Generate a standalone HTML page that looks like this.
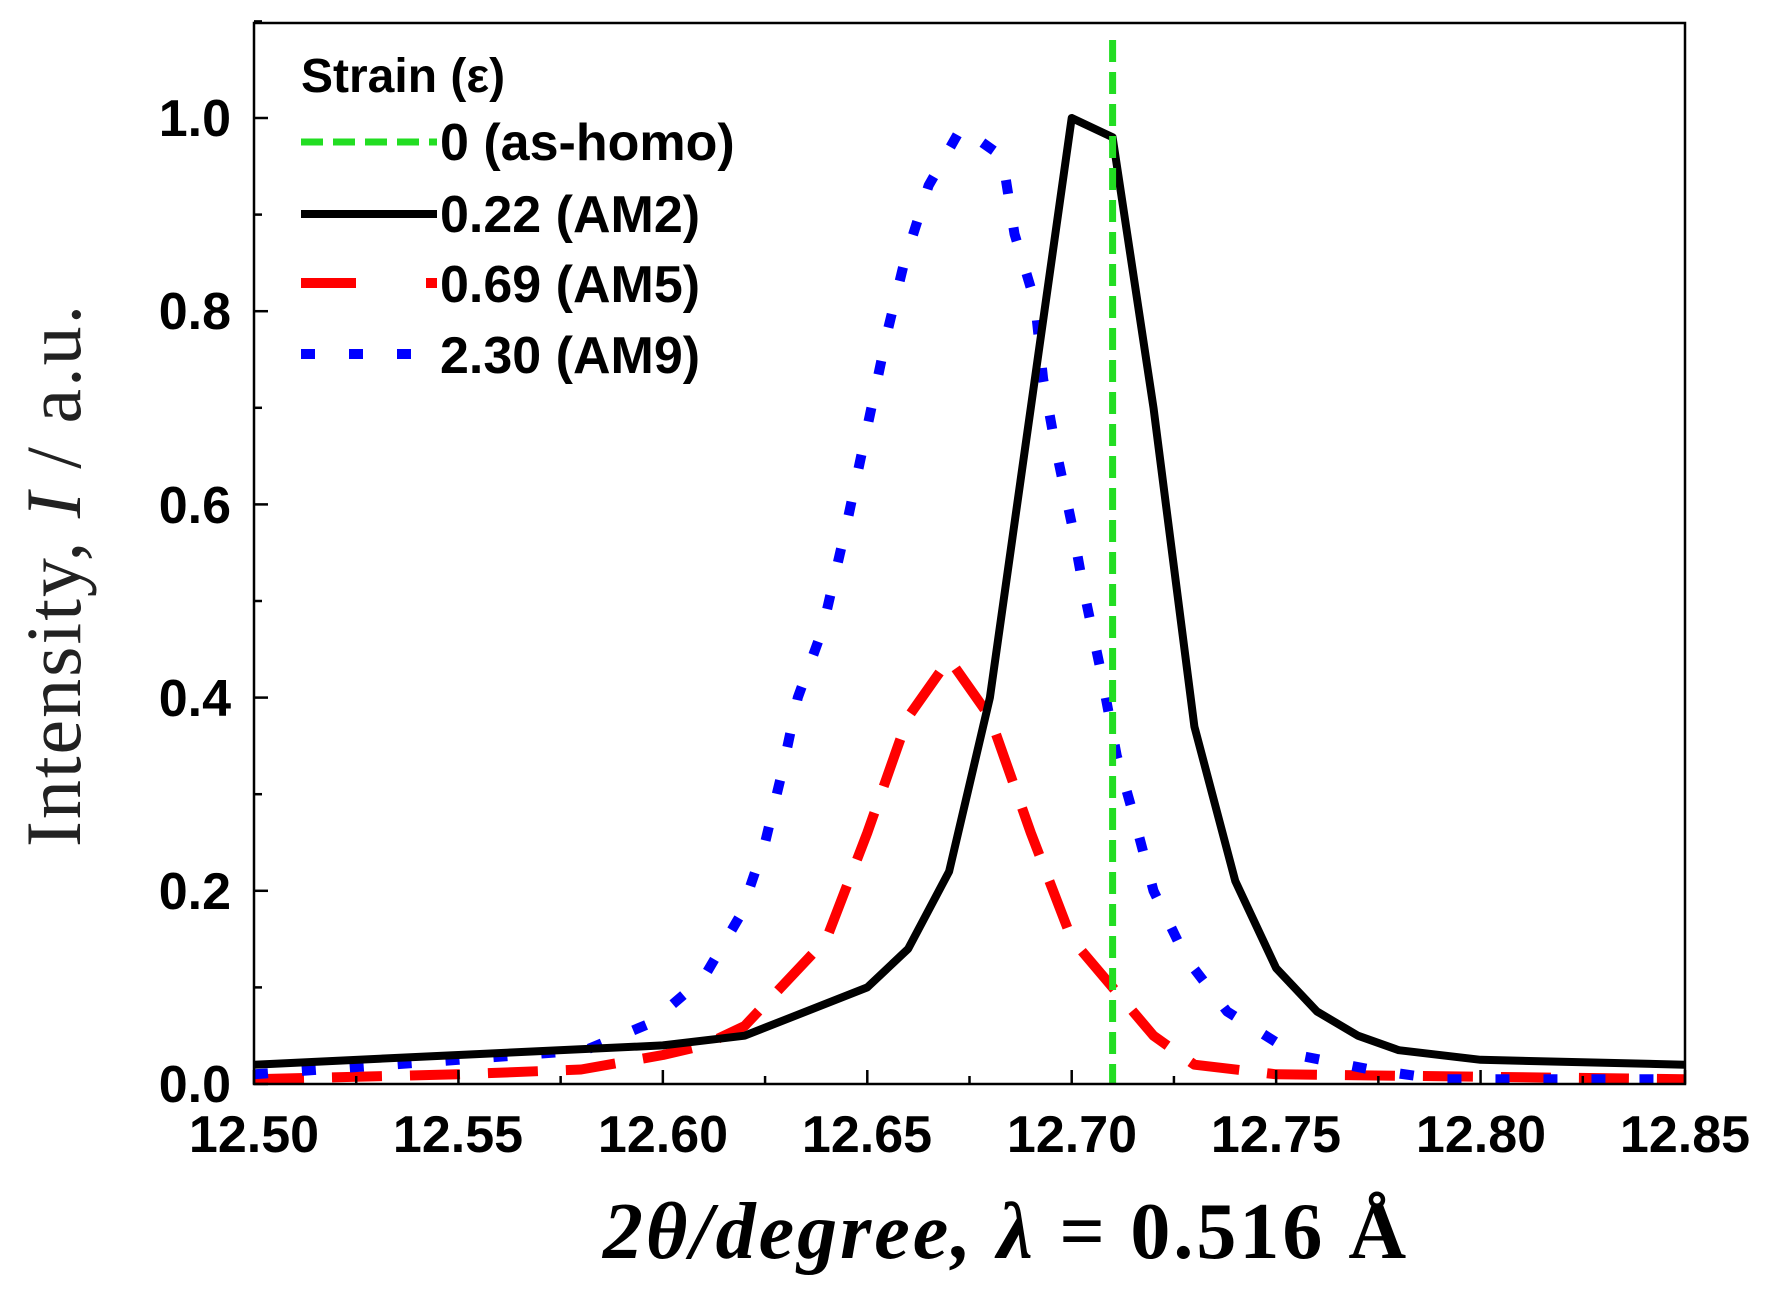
<!DOCTYPE html>
<html><head><meta charset="utf-8"><style>
html,body{margin:0;padding:0;background:#fff;width:1792px;height:1292px;overflow:hidden}
svg{display:block}
.tk{font-family:"Liberation Sans",sans-serif;font-weight:bold;font-size:52px;fill:#000}
</style></head><body>
<svg id="s" width="1792" height="1292" viewBox="0 0 1792 1292" xmlns="http://www.w3.org/2000/svg">
<rect x="0" y="0" width="1792" height="1292" fill="#fff"/>
<g id="data"></g>
<rect x="254" y="23" width="1431" height="1061" fill="none" stroke="#000" stroke-width="2.5"/>
<g id="ticks" stroke="#000" stroke-width="2.5"></g>
<g class="tk" text-anchor="end">
<text x="231" y="1102">0.0</text>
<text x="231" y="909">0.2</text>
<text x="231" y="716">0.4</text>
<text x="231" y="523">0.6</text>
<text x="231" y="329">0.8</text>
<text x="231" y="136">1.0</text>
</g>
<g class="tk" text-anchor="middle" id="xl">
<text x="254" y="1152">12.50</text>
<text x="458" y="1152">12.55</text>
<text x="663" y="1152">12.60</text>
<text x="867" y="1152">12.65</text>
<text x="1072" y="1152">12.70</text>
<text x="1276" y="1152">12.75</text>
<text x="1481" y="1152">12.80</text>
<text x="1685" y="1152">12.85</text>
</g>
<text x="1006" y="1258" text-anchor="middle" font-family="'Liberation Serif',serif" font-weight="bold" font-style="italic" font-size="80" letter-spacing="3">2θ/degree, λ = <tspan font-style="normal">0.516 Å</tspan></text>
<text transform="translate(80,575) rotate(-90)" text-anchor="middle" font-family="'Liberation Serif',serif" font-size="78" letter-spacing="2" fill="#222">Intensity, <tspan font-style="italic">I</tspan> / a.u.</text>
<g font-family="'Liberation Sans',sans-serif" font-weight="bold" font-size="52">
<text x="301" y="92" font-size="48">Strain (ε)</text>
<text x="440" y="160">0 (as-homo)</text>
<text x="440" y="232">0.22 (AM2)</text>
<text x="440" y="302">0.69 (AM5)</text>
<text x="440" y="373">2.30 (AM9)</text>
</g>
<line x1="301" y1="142" x2="437" y2="142" stroke="#22dd22" stroke-width="7" stroke-dasharray="22,10"/>
<line x1="301" y1="214" x2="437" y2="214" stroke="#000" stroke-width="8"/>
<line x1="301" y1="283" x2="437" y2="283" stroke="#f00" stroke-width="10" stroke-dasharray="55,70"/>
<line x1="301" y1="354" x2="437" y2="354" stroke="#00f" stroke-width="10" stroke-dasharray="14,34"/>
</svg>
<script>
var X=function(v){return 254+(v-12.5)/0.35*1431},Y=function(v){return 1084-v*966};
function path(pts){return pts.map(function(p,i){return (i?'L':'M')+X(p[0]).toFixed(1)+' '+Y(p[1]).toFixed(1)}).join(' ')}
var g=document.getElementById('data'),ns='http://www.w3.org/2000/svg';
function add(pts,col,w,dash){var p=document.createElementNS(ns,'path');p.setAttribute('d',path(pts));p.setAttribute('fill','none');p.setAttribute('stroke',col);p.setAttribute('stroke-width',w);p.setAttribute('stroke-linejoin','round');if(dash)p.setAttribute('stroke-dasharray',dash);g.appendChild(p);}
add([[12.5,0.005],[12.55,0.01],[12.58,0.015],[12.6,0.03],[12.61,0.04],[12.62,0.06],[12.64,0.15],[12.65,0.26],[12.66,0.38],[12.67,0.44],[12.68,0.38],[12.69,0.26],[12.7,0.15],[12.71,0.1],[12.72,0.05],[12.73,0.02],[12.75,0.01],[12.85,0.005]],'#f00',10,'50,28');
add([[12.5,0.01],[12.55,0.025],[12.581,0.035],[12.597,0.063],[12.61,0.11],[12.619,0.175],[12.625,0.25],[12.629,0.32],[12.633,0.4],[12.639,0.47],[12.645,0.58],[12.651,0.7],[12.655,0.78],[12.659,0.85],[12.665,0.93],[12.673,0.99],[12.683,0.96],[12.686,0.88],[12.691,0.81],[12.693,0.73],[12.696,0.66],[12.7,0.58],[12.703,0.51],[12.707,0.43],[12.711,0.34],[12.715,0.28],[12.72,0.2],[12.728,0.13],[12.738,0.075],[12.755,0.03],[12.773,0.015],[12.79,0.005],[12.85,0.005]],'#00f',10,'14,34');
add([[12.5,0.02],[12.55,0.03],[12.6,0.04],[12.62,0.05],[12.65,0.1],[12.66,0.14],[12.67,0.22],[12.68,0.4],[12.69,0.7],[12.7,1.0],[12.71,0.98],[12.72,0.7],[12.73,0.37],[12.74,0.21],[12.75,0.12],[12.76,0.075],[12.77,0.05],[12.78,0.035],[12.8,0.025],[12.85,0.02]],'#000',8);
var l=document.createElementNS(ns,'line');l.setAttribute('x1',X(12.71));l.setAttribute('x2',X(12.71));l.setAttribute('y1',40);l.setAttribute('y2',1084);l.setAttribute('stroke','#22dd22');l.setAttribute('stroke-width',7);l.setAttribute('stroke-dasharray','22,10');g.appendChild(l);
var t=document.getElementById('ticks'),h='';
for(var i=0;i<=14;i++){var x=254+i*1431/14;h+='<line x1="'+x+'" y1="1084" x2="'+x+'" y2="'+(1084-(i%2?8:14))+'"/>';}
for(var j=0;j<=11;j++){var y=1084-j*96.6;h+='<line x1="254" y1="'+y+'" x2="'+(254+(j%2?8:14))+'" y2="'+y+'"/>';}
t.innerHTML=h;
</script>
</body></html>
